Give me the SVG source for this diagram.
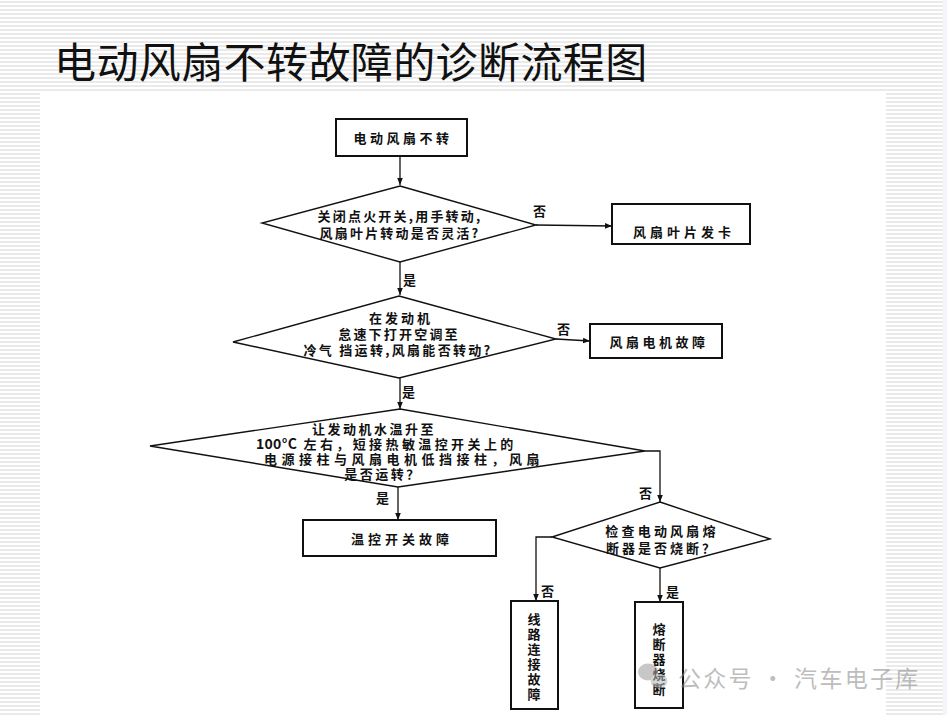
<svg xmlns="http://www.w3.org/2000/svg" width="947" height="715" viewBox="0 0 947 715">
<defs>
<pattern id="stripes" x="0" y="0" width="8" height="4" patternUnits="userSpaceOnUse">
<rect width="8" height="4" fill="#ffffff"/>
<rect y="1.5" width="8" height="1" fill="#d6d6d6"/>
</pattern>
<marker id="arr" viewBox="0 0 10 10" refX="10" refY="5" markerWidth="7" markerHeight="7" markerUnits="userSpaceOnUse" orient="auto">
<path d="M0,1 L10,5 L0,9 Z" fill="#111"/>
</marker>
<style>
.box{fill:#fff;stroke:#111;stroke-width:2}
.dia{fill:#fff;stroke:#111;stroke-width:1.4}
.t{font-family:"Noto Sans CJK SC","Liberation Sans",sans-serif;font-size:13px;font-weight:bold;fill:#111;text-anchor:middle;dominant-baseline:central}
.ts{font-family:"Noto Sans CJK SC","Liberation Sans",sans-serif;font-size:13px;font-weight:bold;fill:#111;dominant-baseline:central}
.lbl{font-family:"Noto Sans CJK SC","Liberation Sans",sans-serif;font-size:13px;font-weight:bold;fill:#111;dominant-baseline:central}
.ln{fill:none;stroke:#111;stroke-width:1.3}
</style>
</defs>
<rect width="947" height="715" fill="url(#stripes)"/>
<rect x="40" y="92" width="846" height="623" fill="#ffffff"/>
<rect x="943" y="0" width="4" height="715" fill="#f4f4fa"/>
<text x="54" y="78" font-family="'Noto Sans CJK SC',sans-serif" font-size="42" letter-spacing="0.4" fill="#111">电动风扇不转故障的诊断流程图</text>

<g id="connectors">
<path class="ln" d="M400,156 L400,185" marker-end="url(#arr)"/>
<path class="ln" d="M536,225 L612,226" marker-end="url(#arr)"/>
<text class="lbl" x="533" y="210">否</text>
<path class="ln" d="M400,262 L400,295" marker-end="url(#arr)"/>
<text class="lbl" x="403" y="279">是</text>
<path class="ln" d="M556,339 L590,341" marker-end="url(#arr)"/>
<text class="lbl" x="557" y="328">否</text>
<path class="ln" d="M400,378 L400,409" marker-end="url(#arr)"/>
<text class="lbl" x="402" y="391">是</text>
<path class="ln" d="M398,487 L398,520" marker-end="url(#arr)"/>
<text class="lbl" x="376" y="497">是</text>
<path class="ln" d="M645,451 L660,451 L660,502" marker-end="url(#arr)"/>
<text class="lbl" x="639" y="492">否</text>
<path class="ln" d="M552,537 L536,537 L536,601" marker-end="url(#arr)"/>
<text class="lbl" x="541" y="590">否</text>
<path class="ln" d="M660,568 L660,602" marker-end="url(#arr)"/>
<text class="lbl" x="666" y="591">是</text>
</g>

<g id="n1">
<rect class="box" x="336" y="119" width="131" height="37"/>
<text class="t" x="403" y="137" letter-spacing="3.5">电动风扇不转</text>
</g>
<g id="d1">
<polygon class="dia" points="400,186 536,225 400,262 262,223"/>
<text class="t" x="400" y="215" letter-spacing="2.2">关闭点火开关,用手转动,</text>
<text class="t" x="400" y="232" letter-spacing="2.2">风扇叶片转动是否灵活?</text>
</g>
<g id="n2">
<rect class="box" x="612" y="204" width="138" height="40"/>
<text class="t" x="684" y="231" letter-spacing="4">风扇叶片发卡</text>
</g>
<g id="d2">
<polygon class="dia" points="399,296 556,339 399,378 233,342"/>
<text class="t" x="401" y="317" letter-spacing="3">在发动机</text>
<text class="t" x="399" y="333" letter-spacing="2.2">怠速下打开空调至</text>
<text class="t" x="398" y="349" letter-spacing="2.3">冷气 挡运转,风扇能否转动?</text>
</g>
<g id="n3">
<rect class="box" x="590" y="324" width="132" height="34"/>
<text class="t" x="659" y="341" letter-spacing="3.5">风扇电机故障</text>
</g>
<g id="d3">
<polygon class="dia" points="400,409 645,451 398,487 150,446"/>
<text class="t" x="374" y="428" letter-spacing="2.5">让发动机水温升至</text>
<text class="ts" x="256" y="443"><tspan font-size="14" letter-spacing="0.3">100°C</tspan><tspan letter-spacing="3.4"> 左右，短接热敏温控开关上的</tspan></text>
<text class="t" x="404" y="458" letter-spacing="4.5">电源接柱与风扇电机低挡接柱，风扇</text>
<text class="t" x="383" y="473" letter-spacing="2.5">是否运转？</text>
</g>
<g id="n4">
<rect class="box" x="303" y="520" width="193" height="36"/>
<text class="t" x="402" y="538" letter-spacing="4">温控开关故障</text>
</g>
<g id="d4">
<polygon class="dia" points="660,502 770,539 660,568 552,537"/>
<text class="t" x="662" y="530" letter-spacing="3.2">检查电动风扇熔</text>
<text class="t" x="662" y="547" letter-spacing="3">断器是否烧断？</text>
</g>
<g id="n5">
<rect class="box" x="511" y="601" width="47" height="108"/>
<text class="t" x="534" y="618" font-size="14">线</text>
<text class="t" x="534" y="633" font-size="14">路</text>
<text class="t" x="534" y="648" font-size="14">连</text>
<text class="t" x="534" y="663" font-size="14">接</text>
<text class="t" x="534" y="678" font-size="14">故</text>
<text class="t" x="534" y="693" font-size="14">障</text>
</g>
<g id="n6">
<rect class="box" x="635" y="602" width="48" height="106"/>
<text class="t" x="659" y="628" font-size="14">熔</text>
<text class="t" x="659" y="643" font-size="14">断</text>
<text class="t" x="659" y="658" font-size="14">器</text>
<text class="t" x="659" y="673" font-size="14">烧</text>
<text class="t" x="659" y="688" font-size="14">断</text>
</g>
<g id="watermark" opacity="0.55">
<ellipse cx="648" cy="672" rx="10" ry="8.5" fill="#9a9a9a"/>
<ellipse cx="659" cy="681" rx="8.5" ry="7" fill="#b5b5b5"/>
<text x="678" y="687" font-family="'Noto Sans CJK SC',sans-serif" font-size="23" letter-spacing="2.3" fill="#888">公众号 · 汽车电子库</text>
</g>
</svg>
